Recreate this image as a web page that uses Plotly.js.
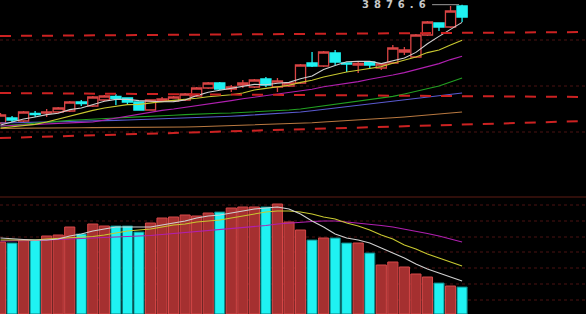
<!DOCTYPE html>
<html><head><meta charset="utf-8">
<script src="https://cdn.plot.ly/plotly-3.0.1.min.js"></script>
<style>html,body{margin:0;padding:0;background:#000;overflow:hidden}#chart{width:586px;height:314px}</style>
</head><body><div id="chart"></div>
<script>
const days = ['D01','D02','D03','D04','D05','D06','D07','D08','D09','D10','D11','D12','D13','D14','D15','D16','D17','D18','D19','D20','D21','D22','D23','D24','D25','D26','D27','D28','D29','D30','D31','D32','D33','D34','D35','D36','D37','D38','D39','D40','D41'];
const openP  = [3285,3310,3295,3332.5,3335,3340,3345,3390,3370,3400,3417.5,3410,3390,3350,3395,3395,3400,3420,3460,3485,3455,3475,3465,3505,3465,3470,3485,3585,3570,3635,3585,3575,3590,3560,3585,3640,3615,3725,3785,3765,3870];
const highP  = [3335,3320,3345,3345,3355,3365,3395,3400,3420,3425,3430,3412.5,3392.5,3402.5,3415,3420,3435,3465,3490,3490,3475,3500,3505,3515,3510,3490,3580,3640,3645,3650,3585,3590,3592.5,3585,3675,3665,3730,3795,3787.5,3870,3876.6];
const lowP   = [3280,3290,3290,3315,3315,3335,3340,3370,3365,3395,3375,3380,3347.5,3347.5,3390,3390,3395,3415,3455,3450,3440,3460,3460,3465,3440,3465,3480,3565,3565,3575,3540,3535,3555,3550,3580,3625,3610,3720,3745,3760,3790];
const closeP = [3325,3300,3340,3327.5,3340,3360,3390,3382.5,3415,3420,3407.5,3390,3350,3400,3405,3415,3430,3460,3485,3455,3465,3485,3500,3475,3495,3485,3575,3570,3640,3590,3580,3582.5,3575,3580,3660,3650,3725,3790,3765,3845,3815];
const ma5    = [3275,3290,3305,3315,3327,3334,3352,3360,3378,3394,3403,3403,3397,3394,3391,3392,3400,3422,3439,3449,3459,3470,3478,3476,3484,3488,3506,3520,3553,3572,3591,3593,3594,3582,3596,3610,3638,3681,3718,3755,3788];
const ma10   = [3260,3265,3270,3278,3290,3305,3320,3335,3348,3360,3368,3377,3378,3386,3392,3398,3402,3409,3416,3420,3426,3435,3450,3458,3467,3474,3488,3499,3515,3528,3540,3549,3557,3567,3584,3600,3615,3637,3650,3675,3699];
const ma20   = [3270,3273,3275,3278,3280,3283,3285,3288,3290,3300,3310,3320,3330,3340,3348,3355,3363,3370,3380,3388,3397,3406,3414,3422,3429,3436,3445,3454,3466,3474,3483,3492,3504,3513,3525,3537,3552,3568,3582,3602,3619];
const ma30   = [3270,3275,3280,3285,3290,3294,3298,3301,3305,3308,3310,3313,3315,3318,3320,3324,3327,3330,3332,3334,3335,3338,3340,3343,3345,3350,3355,3363,3370,3380,3388,3395,3405,3413,3418,3430,3443,3455,3470,3490,3510];
const ma60   = [3285,3286,3288,3289,3290,3291,3293,3294,3295,3297,3298,3300,3302,3303,3305,3307,3308,3310,3313,3316,3319,3322,3325,3329,3332,3335,3340,3346,3353,3359,3365,3372,3379,3385,3392,3399,3406,3413,3420,3428,3435];
const ma120  = [3258,3258,3259,3259,3260,3260,3261,3261,3262,3262,3263,3263,3264,3264,3265,3265,3265,3266,3268,3269,3271,3273,3275,3277,3279,3280,3283,3286,3290,3293,3296,3300,3303,3307,3311,3315,3320,3325,3330,3335,3340];
const volume = [72,71,74,74,78,79,87,80,90,88,88,88,82,91,96,97,99,98,101,102,106,107,107,107,110,92,84,74,76,76,71,71,61,49,52,47,40,37,31,28,27];
const vma5   = [76,75,74.5,74,74,75,78,80,83,85,87,87,87,87,89,91,93,96,98,99,101,103,105,106,107,105,100,93,87,80,76,74,71,66,61,56,50,45,41,37,33];
const vma10  = [74,74,74,74,75,75.5,76,76.5,77.5,79,81,83,84,85,87,89,90,92,93,94,96,98,100,102,103,103,102,100,97,95,91,88,84,79,75,69,65,60,56,52,48];
const vma20  = [73,73,73.5,73.5,74,74.5,75,75.5,76,76.5,77,77,77.5,78.5,79.5,80.5,81.5,82,83,84,85,86,87,88.5,90,91,92,92.5,93,93,92,91,90,88.5,87,85,83,80.5,78,75,72];
const topLabel = '3876.6';

const UP = '#d94444', DOWN = '#1ff2f2';
const isUp = closeP.map((c,i)=>c>=openP[i]);

const traces = [];
traces.push({type:'candlestick', x:days, open:openP, high:highP, low:lowP, close:closeP,
  xaxis:'x', yaxis:'y', whiskerwidth:0, hoverinfo:'skip',
  increasing:{line:{color:UP,width:1.3}, fillcolor:'#000'},
  decreasing:{line:{color:DOWN,width:1.3}, fillcolor:DOWN}});
const priceLines = [[ma120,'#b87840'],[ma60,'#5a5ad0'],[ma30,'#22a022'],[ma20,'#b020b0'],[ma10,'#c8c830'],[ma5,'#d0d0d0']];
priceLines.forEach(([d,c])=>traces.push({type:'scatter',mode:'lines',x:days,y:d,xaxis:'x',yaxis:'y',line:{color:c,width:1.1},hoverinfo:'skip'}));
traces.push({type:'bar', x:days, y:volume, xaxis:'x', yaxis:'y2', width:0.88, hoverinfo:'skip',
  marker:{color:isUp.map(u=>u?'#a53030':DOWN), line:{color:isUp.map(u=>u?'#d84848':'#0f7a7a'), width:1}}});
[[vma20,'#b020b0'],[vma10,'#c8c830'],[vma5,'#d0d0d0']].forEach(([d,c])=>traces.push({type:'scatter',mode:'lines',x:days,y:d,xaxis:'x',yaxis:'y2',line:{color:c,width:1.1},hoverinfo:'skip'}));

const grid = '#4a1212';
const shapes = [];
[3700,3470,3240].forEach(v=>shapes.push({type:'line',xref:'paper',x0:0,x1:1,yref:'y',y0:v,y1:v,layer:'below',line:{color:grid,width:1,dash:'dot'}}));
[109,93,77,62,46,30,14].forEach(v=>shapes.push({type:'line',xref:'paper',x0:0,x1:1,yref:'y2',y0:v,y1:v,layer:'below',line:{color:grid,width:1,dash:'dot'}}));
shapes.push({type:'line',xref:'paper',x0:0,x1:1,yref:'paper',y0:117/314,y1:117/314,line:{color:'#5e1c14',width:1}});
[[3720,3740],[3435,3415],[3210,3295]].forEach(([a,b])=>shapes.push({type:'line',xref:'paper',x0:0,x1:1,yref:'y',y0:a,y1:b,layer:'above',line:{color:'#cc2222',width:2,dash:'11px,10px'}}));

const layout = {
  width:586, height:314, margin:{l:0,r:0,t:0,b:0,pad:0},
  paper_bgcolor:'#000', plot_bgcolor:'#000', showlegend:false,
  boxgap:0.12, boxgroupgap:0,
  xaxis:{type:'category', range:[-0.043,50.74], visible:false, rangeslider:{visible:false}, fixedrange:true},
  yaxis:{domain:[117/314,1], range:[2915,3900], visible:false, fixedrange:true},
  yaxis2:{domain:[0,117/314], range:[0,117], visible:false, fixedrange:true},
  bargap:0,
  shapes:shapes,
  annotations:[{xref:'x', yref:'y', x:days[40], y:highP[40], text:'<span style="letter-spacing:5px">'+topLabel+'</span>',
    showarrow:true, arrowhead:0, arrowwidth:1, arrowcolor:'#9a9a9a', ax:-66, ay:0, standoff:3,
    font:{family:'DejaVu Sans', size:10, color:'#c8c8c8', weight:'bold'}}]
};
Plotly.newPlot('chart', traces, layout, {staticPlot:true, displayModeBar:false});
</script></body></html>
